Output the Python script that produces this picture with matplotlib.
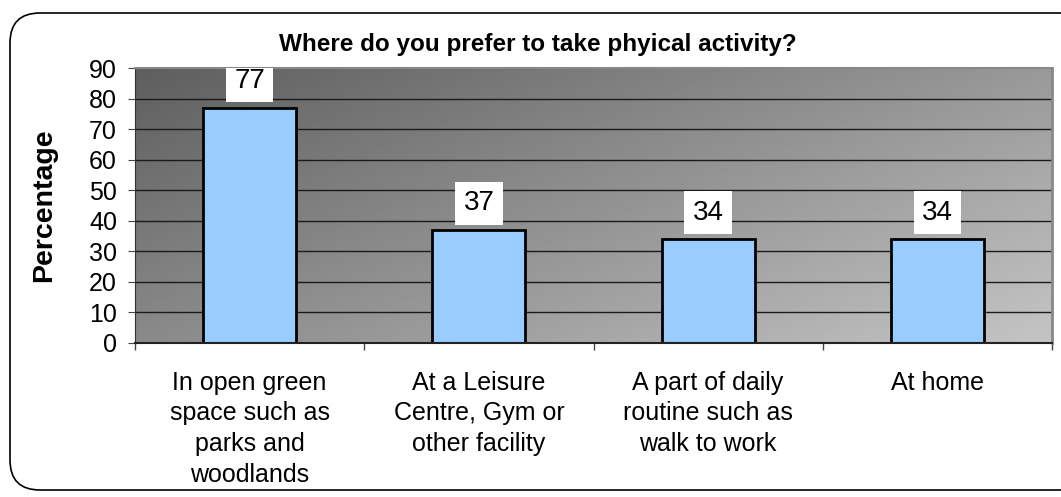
import numpy as np
import matplotlib.pyplot as plt
from matplotlib.patches import FancyBboxPatch

categories = ['In open green\nspace such as\nparks and\nwoodlands',
              'At a Leisure\nCentre, Gym or\nother facility',
              'A part of daily\nroutine such as\nwalk to work',
              'At home']
values = [77, 37, 34, 34]

plt.rcParams['font.family'] = ['Liberation Sans', 'DejaVu Sans']

W, H, dpi = 1061, 497, 100
fig = plt.figure(figsize=(W / dpi, H / dpi), dpi=dpi)

# rounded outer frame (inches)
frame = FancyBboxPatch((10 / dpi, 7 / dpi), 1080 / dpi, 477 / dpi,
                       boxstyle='round,pad=0,rounding_size=0.3',
                       transform=fig.dpi_scale_trans, fc='white', ec='black', lw=1.2,
                       zorder=0)
fig.patches.append(frame)

ax = fig.add_axes([135 / W, 1 - 343 / H, (1052 - 135) / W, (343 - 68) / H])
ax.set_zorder(1)

# diagonal grey gradient background
gx, gy = np.meshgrid(np.linspace(0, 1, 300), np.linspace(0, 1, 100))
g = 0.37 + 0.23 * gx + 0.17 * gy
ax.imshow(g, cmap='gray', vmin=0, vmax=1, extent=[0, 1, 0, 1],
          transform=ax.transAxes, aspect='auto', origin='upper', zorder=0)

x = np.arange(len(values))
ax.set_xlim(-0.5, len(values) - 0.5)
ax.set_ylim(0, 90)
ax.set_yticks(range(0, 91, 10))
for yv in range(10, 90, 10):
    ax.axhline(yv, color='#1a1a1a', lw=1, zorder=1)

ax.bar(x, values, width=0.405, color='#99ccff', edgecolor='black', lw=2, zorder=2)
for xi, v in zip(x, values):
    ax.text(xi, v + 6.4, str(v), ha='center', va='baseline', fontsize=20, zorder=3,
            clip_on=True, bbox=dict(boxstyle='square,pad=0.3', fc='white', ec='none'))

ax.set_xticks(np.arange(-0.5, len(values), 1))
ax.set_xticklabels([])
ax.set_xticks(x, minor=True)
ax.set_xticklabels(categories, minor=True, fontsize=18, linespacing=1.35)
ax.tick_params(axis='x', which='minor', length=0, pad=20)
ax.tick_params(axis='x', which='major', length=5, width=1, direction='out', color='#444444')
ax.tick_params(axis='y', length=5, labelsize=18, pad=8, color='#444444')

ax.spines['top'].set_color('#888888')
ax.spines['top'].set_linewidth(1.5)
ax.spines['right'].set_color('#888888')
ax.spines['right'].set_linewidth(2)
ax.spines['left'].set_color('#333333')
ax.spines['bottom'].set_color('#222222')
ax.spines['bottom'].set_linewidth(1.5)

ax.set_ylabel('Percentage', fontsize=20.5, fontweight='bold')
ax.yaxis.set_label_coords(-0.085, 0.5)
fig.text(538 / W, 1 - 45 / H, 'Where do you prefer to take phyical activity?',
         ha='center', va='center', fontsize=17.5, fontweight='bold')

fig.savefig('out.png', dpi=dpi)
